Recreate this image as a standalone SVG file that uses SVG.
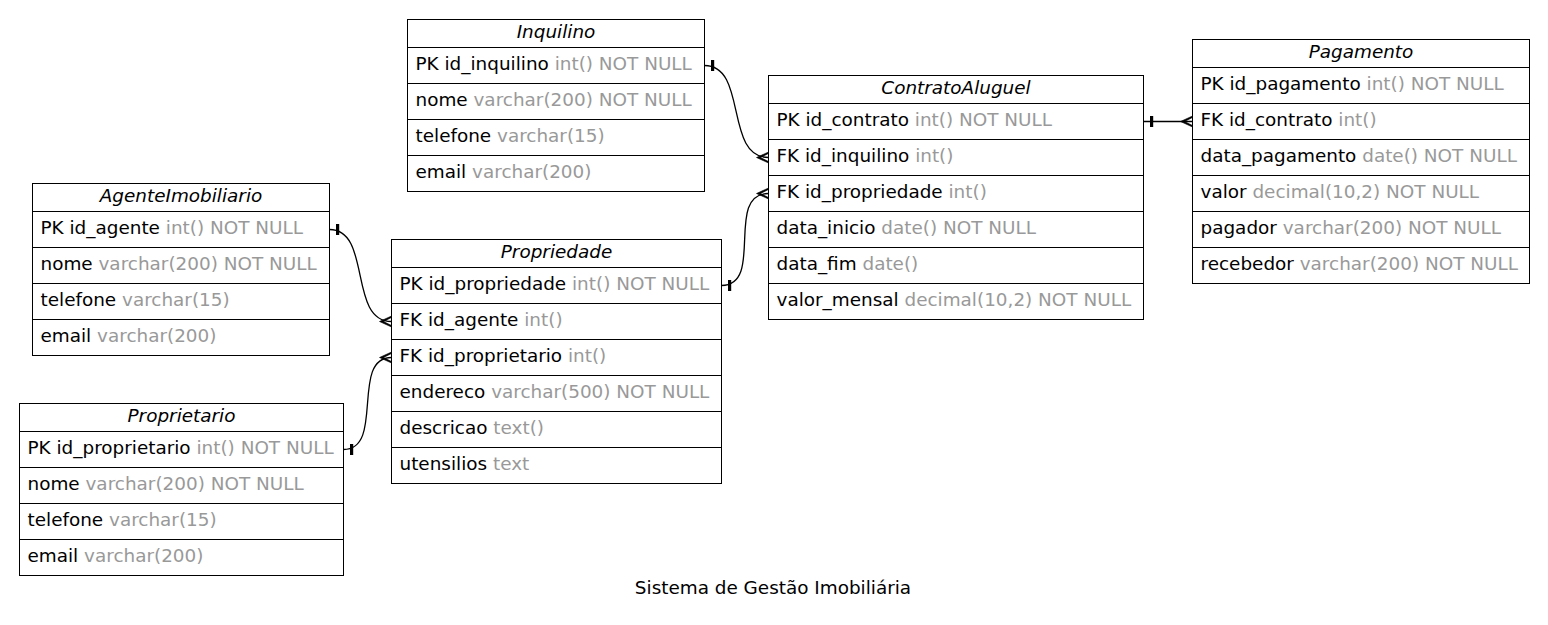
<svg xmlns="http://www.w3.org/2000/svg" width="1548" height="625" viewBox="0 0 1548 625">
<style>
text{font-family:"DejaVu Sans","Liberation Sans",sans-serif;font-size:18.4px;fill:#000}
.h{font-style:italic;text-anchor:middle}
.t{fill:#999999}
.box{fill:none;stroke:#000;stroke-width:1}
.sep{stroke:#000;stroke-width:1}
.edge{fill:none;stroke:#000;stroke-width:1.3}
</style>
<defs>
<marker id="tee" markerUnits="userSpaceOnUse" orient="auto" markerWidth="20" markerHeight="20" refX="0" refY="0" overflow="visible">
<rect x="6.5" y="-5.5" width="3.2" height="11" fill="#000"/>
</marker>
<marker id="crow" markerUnits="userSpaceOnUse" orient="auto" markerWidth="20" markerHeight="20" refX="0" refY="0" overflow="visible">
<path d="M-12,0 L0,-5.5 L0,-4 L-8,0 L0,4 L0,5.5 Z" fill="#000" stroke="#000" stroke-width="0.6"/>
</marker>
</defs>
<rect width="1548" height="625" fill="#fff"/>

<g id="edges">
<path class="edge" d="M704.5,65.5 C748,65.5 724,157.5 768.5,157.5" marker-start="url(#tee)" marker-end="url(#crow)"/>
<path class="edge" d="M721.5,285.5 C765,285.5 724,193.5 768.5,193.5" marker-start="url(#tee)" marker-end="url(#crow)"/>
<path class="edge" d="M1143.5,121.5 L1192.5,121.5" marker-start="url(#tee)" marker-end="url(#crow)"/>
<path class="edge" d="M329.5,229.5 C372,229.5 348,321.5 391.5,321.5" marker-start="url(#tee)" marker-end="url(#crow)"/>
<path class="edge" d="M343.5,449.5 C385,449.5 350,357.5 391.5,357.5" marker-start="url(#tee)" marker-end="url(#crow)"/>
</g>

<g id="Inquilino">
<rect class="box" x="407.5" y="19.5" width="297" height="172"/>
<path class="sep" d="M407.5,47.5H704.5M407.5,83.5H704.5M407.5,119.5H704.5M407.5,155.5H704.5"/>
<text class="h" x="556" y="37.5">Inquilino</text>
<text x="415.5" y="69.5">PK id_inquilino <tspan class="t">int() NOT NULL</tspan></text>
<text x="415.5" y="105.5">nome <tspan class="t">varchar(200) NOT NULL</tspan></text>
<text x="415.5" y="141.5">telefone <tspan class="t">varchar(15)</tspan></text>
<text x="415.5" y="177.5">email <tspan class="t">varchar(200)</tspan></text>
</g>

<g id="AgenteImobiliario">
<rect class="box" x="32.5" y="183.5" width="297" height="172"/>
<path class="sep" d="M32.5,211.5H329.5M32.5,247.5H329.5M32.5,283.5H329.5M32.5,319.5H329.5"/>
<text class="h" x="181" y="201.5">AgenteImobiliario</text>
<text x="40.5" y="233.5">PK id_agente <tspan class="t">int() NOT NULL</tspan></text>
<text x="40.5" y="269.5">nome <tspan class="t">varchar(200) NOT NULL</tspan></text>
<text x="40.5" y="305.5">telefone <tspan class="t">varchar(15)</tspan></text>
<text x="40.5" y="341.5">email <tspan class="t">varchar(200)</tspan></text>
</g>

<g id="Proprietario">
<rect class="box" x="19.5" y="403.5" width="324" height="172"/>
<path class="sep" d="M19.5,431.5H343.5M19.5,467.5H343.5M19.5,503.5H343.5M19.5,539.5H343.5"/>
<text class="h" x="181.5" y="421.5">Proprietario</text>
<text x="27.5" y="453.5">PK id_proprietario <tspan class="t">int() NOT NULL</tspan></text>
<text x="27.5" y="489.5">nome <tspan class="t">varchar(200) NOT NULL</tspan></text>
<text x="27.5" y="525.5">telefone <tspan class="t">varchar(15)</tspan></text>
<text x="27.5" y="561.5">email <tspan class="t">varchar(200)</tspan></text>
</g>

<g id="Propriedade">
<rect class="box" x="391.5" y="239.5" width="330" height="244"/>
<path class="sep" d="M391.5,267.5H721.5M391.5,303.5H721.5M391.5,339.5H721.5M391.5,375.5H721.5M391.5,411.5H721.5M391.5,447.5H721.5"/>
<text class="h" x="556.5" y="257.5">Propriedade</text>
<text x="399.5" y="289.5">PK id_propriedade <tspan class="t">int() NOT NULL</tspan></text>
<text x="399.5" y="325.5">FK id_agente <tspan class="t">int()</tspan></text>
<text x="399.5" y="361.5">FK id_proprietario <tspan class="t">int()</tspan></text>
<text x="399.5" y="397.5">endereco <tspan class="t">varchar(500) NOT NULL</tspan></text>
<text x="399.5" y="433.5">descricao <tspan class="t">text()</tspan></text>
<text x="399.5" y="469.5">utensilios <tspan class="t">text</tspan></text>
</g>

<g id="ContratoAluguel">
<rect class="box" x="768.5" y="75.5" width="375" height="244"/>
<path class="sep" d="M768.5,103.5H1143.5M768.5,139.5H1143.5M768.5,175.5H1143.5M768.5,211.5H1143.5M768.5,247.5H1143.5M768.5,283.5H1143.5"/>
<text class="h" x="956" y="93.5">ContratoAluguel</text>
<text x="776.5" y="125.5">PK id_contrato <tspan class="t">int() NOT NULL</tspan></text>
<text x="776.5" y="161.5">FK id_inquilino <tspan class="t">int()</tspan></text>
<text x="776.5" y="197.5">FK id_propriedade <tspan class="t">int()</tspan></text>
<text x="776.5" y="233.5">data_inicio <tspan class="t">date() NOT NULL</tspan></text>
<text x="776.5" y="269.5">data_fim <tspan class="t">date()</tspan></text>
<text x="776.5" y="305.5">valor_mensal <tspan class="t">decimal(10,2) NOT NULL</tspan></text>
</g>

<g id="Pagamento">
<rect class="box" x="1192.5" y="39.5" width="337" height="244"/>
<path class="sep" d="M1192.5,67.5H1529.5M1192.5,103.5H1529.5M1192.5,139.5H1529.5M1192.5,175.5H1529.5M1192.5,211.5H1529.5M1192.5,247.5H1529.5"/>
<text class="h" x="1361" y="57.5">Pagamento</text>
<text x="1200.5" y="89.5">PK id_pagamento <tspan class="t">int() NOT NULL</tspan></text>
<text x="1200.5" y="125.5">FK id_contrato <tspan class="t">int()</tspan></text>
<text x="1200.5" y="161.5">data_pagamento <tspan class="t">date() NOT NULL</tspan></text>
<text x="1200.5" y="197.5">valor <tspan class="t">decimal(10,2) NOT NULL</tspan></text>
<text x="1200.5" y="233.5">pagador <tspan class="t">varchar(200) NOT NULL</tspan></text>
<text x="1200.5" y="269.5">recebedor <tspan class="t">varchar(200) NOT NULL</tspan></text>
</g>

<g id="title">
<text x="773" y="594" text-anchor="middle">Sistema de Gestão Imobiliária</text>
</g>
</svg>
